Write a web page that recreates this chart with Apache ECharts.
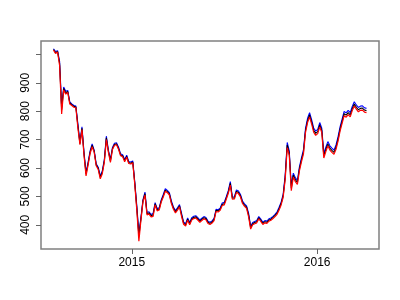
<!DOCTYPE html>
<html>
<head>
<meta charset="utf-8">
<script src="https://cdn.jsdelivr.net/npm/echarts@6/dist/echarts.min.js"></script>
<style>html,body{margin:0;padding:0;background:#fff}#c{width:400px;height:300px}</style>
</head>
<body>
<div id="c"></div>
<script>
// Series start date and spacing (days) of the observations
const startDate = '2014-07-31';
const stepDays = 4;

// Daily low (red)
const low = [1015,1003,1008,960,790,875,860,866,825,820,
 814,812,740,682,735,645,572,610,651,675,
 656,608,595,562,580,620,700,656,620,665,
 680,682,666,643,640,622,638,616,614,618,
 540,450,342,415,480,505,435,438,428,430,
 470,449,452,480,498,518,513,505,475,455,
 442,452,463,430,402,396,416,400,417,422,
 424,417,409,415,421,418,405,401,406,415,
 447,445,451,468,470,490,511,540,490,491,
 514,510,498,475,465,458,428,385,400,404,
 407,421,412,401,407,405,413,416,422,429,
 437,452,470,497,560,672,645,520,568,552,
 542,590,622,650,725,760,780,755,726,715,
 721,745,725,635,658,678,663,655,648,666,
 695,730,757,784,779,788,780,802,818,807,
 798,803,804,797,795];

// Daily high (blue)
const high = [1020,1010,1013,975,815,885,870,873,833,826,
 820,818,755,690,745,655,585,620,660,685,
 663,615,603,572,590,630,712,663,630,672,
 687,689,673,650,647,630,645,623,621,625,
 550,465,370,425,488,515,443,446,436,440,
 478,457,460,488,507,527,521,513,484,463,
 450,460,471,440,410,404,424,408,425,430,
 432,425,417,423,429,426,413,409,414,423,
 455,453,459,477,479,499,520,552,498,499,
 523,519,507,484,474,467,440,395,408,412,
 415,429,420,409,415,413,421,424,430,437,
 446,462,480,508,575,690,660,538,582,566,
 556,604,636,665,740,775,795,770,741,730,
 736,760,740,652,673,693,678,670,663,681,
 710,745,772,799,794,803,795,817,833,822,
 813,818,819,812,810];

// Daily close (black)
const close = [1017,1006,1010,968,805,880,865,869,829,823,
 817,815,748,686,740,650,578,615,655,680,
 659,611,599,567,585,625,706,659,625,668,
 683,685,669,646,643,626,641,619,617,621,
 545,458,360,420,484,510,439,442,432,435,
 474,453,456,484,502,522,517,509,479,459,
 446,456,467,435,406,400,420,404,421,426,
 428,421,413,419,425,422,409,405,410,419,
 451,449,455,472,474,494,515,546,494,495,
 518,514,502,479,469,462,434,390,404,408,
 411,425,416,405,411,409,417,420,426,433,
 441,457,475,502,567,681,652,529,575,559,
 549,597,629,657,732,767,787,762,733,722,
 728,752,732,643,665,685,670,662,655,673,
 702,737,764,791,786,795,787,809,825,814,
 805,810,811,804,802];

// Axis ticks and labels
const xTickDates = ['2015-01-01','2016-01-01'];
const xTickLabels = ['2015','2016'];
const yTicks = [400,500,600,700,800,900,1000];
const yLabels = [400,500,600,700,800,900];

function parseD(s){const p=s.split('-');return Date.UTC(+p[0],+p[1]-1,+p[2]);}
const DAY = 86400000;
const t0 = parseD(startDate);
const dates = low.map((_, i) => t0 + i * stepDays * DAY);

const tMin = dates[0], tMax = dates[dates.length-1];
const tPad = (tMax - tMin) * 0.04;
const allV = low.concat(high, close);
const vMin = Math.min(...allV), vMax = Math.max(...allV);
const vPad = (vMax - vMin) * 0.04;

const xTicks = xTickDates.map(parseD);
const yearLabel = {};
xTicks.forEach((t, i) => { yearLabel[t] = xTickLabels[i]; });

const mk = arr => arr.map((v, i) => [dates[i], v]);
const FONT = 'Liberation Sans, Arial, sans-serif';

const chart = echarts.init(document.getElementById('c'), null, {renderer: 'canvas'});
chart.setOption({
  animation: false,
  backgroundColor: '#fff',
  grid: {left: 41, top: 41, width: 338, height: 208, show: true,
         borderColor: '#808080', borderWidth: 1.5, backgroundColor: 'transparent'},
  xAxis: {
    type: 'value', min: tMin - tPad, max: tMax + tPad,
    axisLine: {show: false},
    splitLine: {show: false},
    axisTick: {show: true, length: 5, lineStyle: {color: '#666', width: 1}, customValues: xTicks},
    axisLabel: {customValues: xTicks, formatter: v => yearLabel[v] || '', color: '#000',
                fontFamily: FONT, fontSize: 12, margin: 8, hideOverlap: false}
  },
  yAxis: {
    type: 'value', min: vMin - vPad, max: vMax + vPad,
    axisLine: {show: false},
    splitLine: {show: false},
    axisTick: {show: true, length: 5, lineStyle: {color: '#666', width: 1}, customValues: yTicks},
    axisLabel: {customValues: yLabels, rotate: 90, color: '#000', fontFamily: FONT,
                fontSize: 12, margin: 9}
  },
  series: [
    {type: 'line', data: mk(high), showSymbol: false, lineStyle: {color: '#0000ff', width: 1.1}, z: 2},
    {type: 'line', data: mk(close), showSymbol: false, lineStyle: {color: '#000000', width: 1.1}, z: 3},
    {type: 'line', data: mk(low), showSymbol: false, lineStyle: {color: '#ff0000', width: 1.2}, z: 4}
  ]
});
</script>
</body>
</html>
